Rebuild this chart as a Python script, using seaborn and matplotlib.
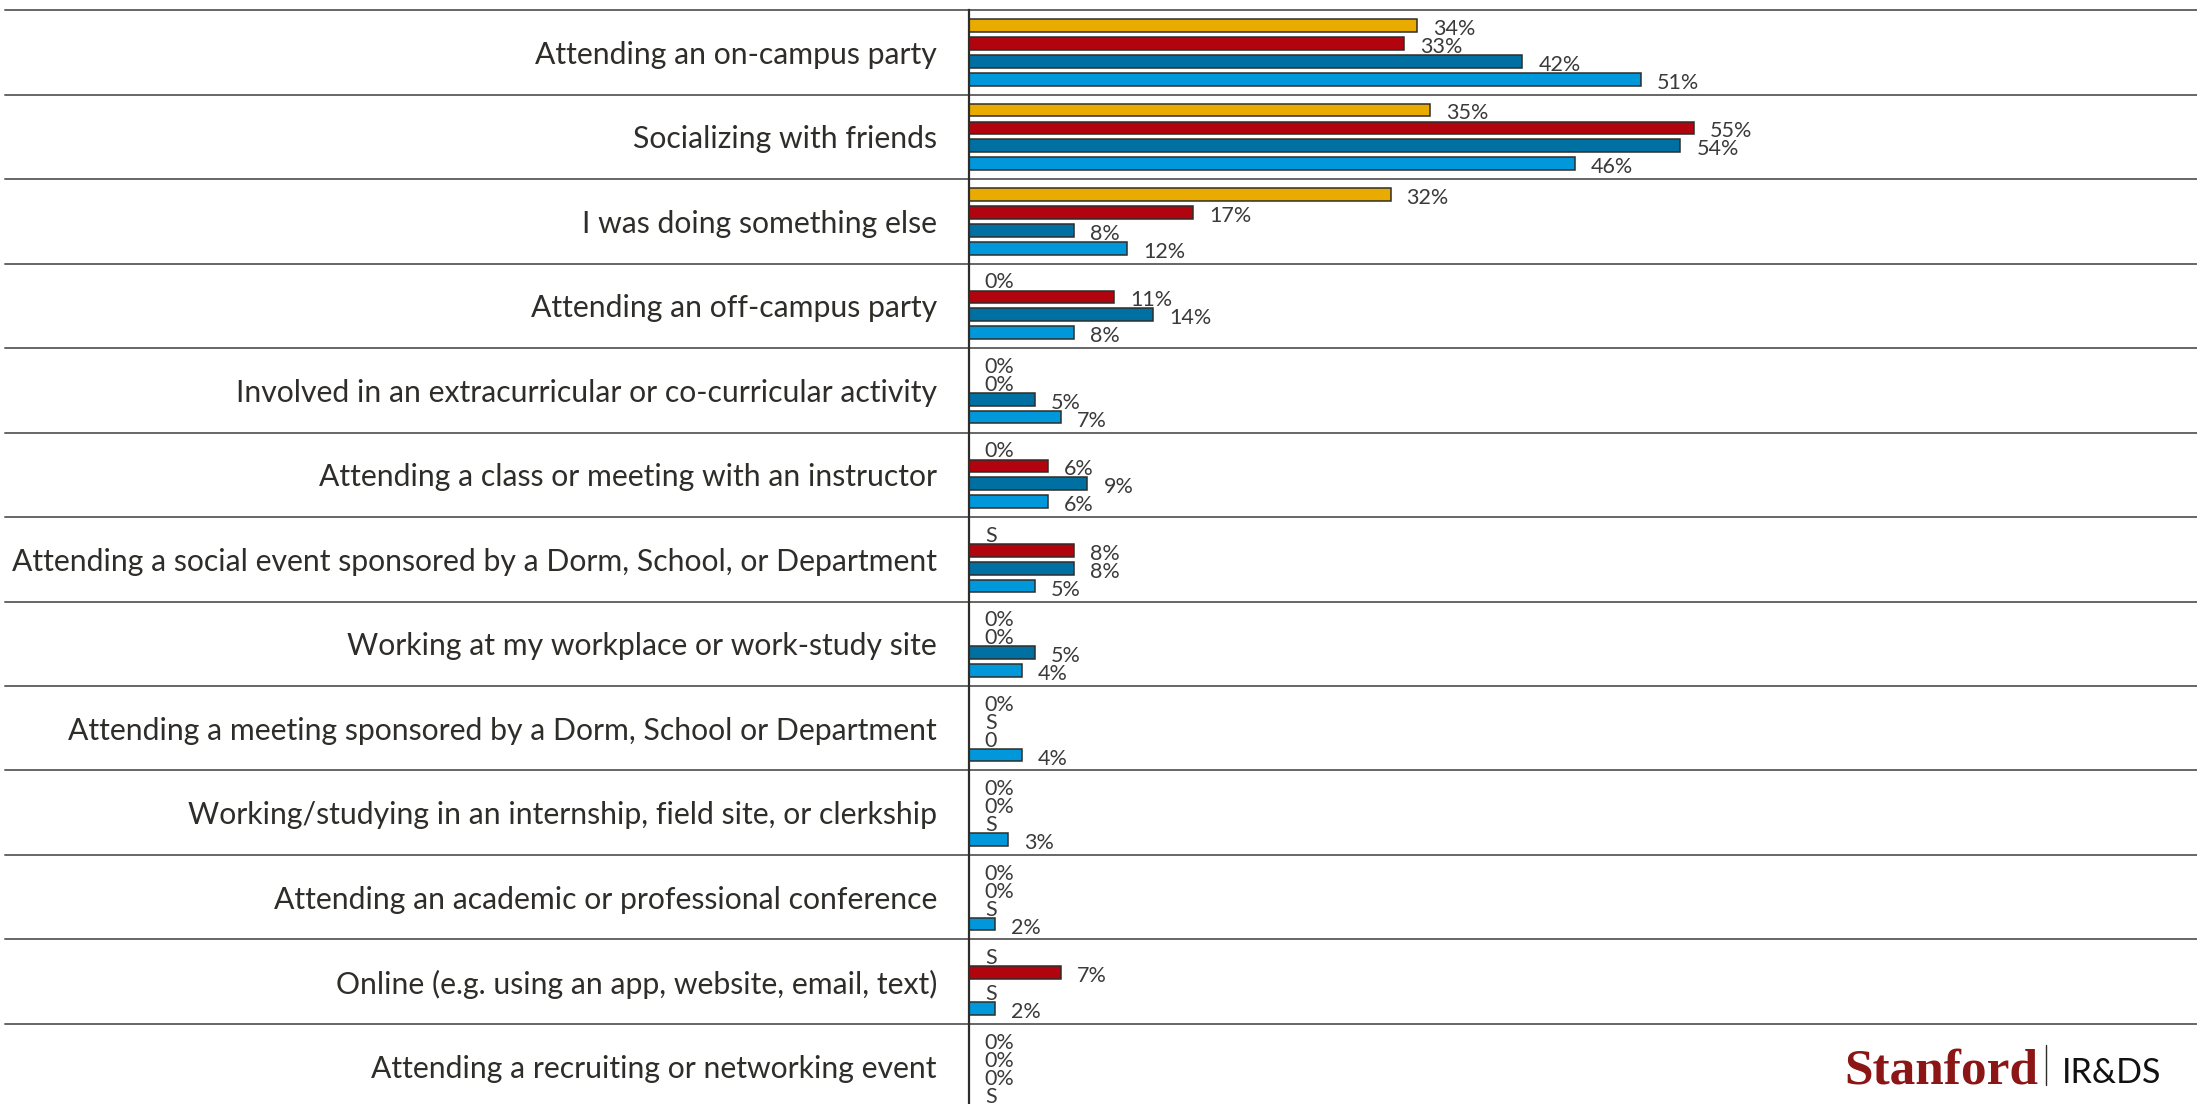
import matplotlib as mpl
mpl.use("Agg")

import matplotlib.pyplot as plt
from matplotlib.lines import Line2D
import seaborn as sns
import pandas as pd

sns.set_theme(style="white")
plt.rcParams["font.family"] = ["Lato", "DejaVu Sans"]

activities = [
    "Attending an on-campus party",
    "Socializing with friends",
    "I was doing something else",
    "Attending an off-campus party",
    "Involved in an extracurricular or co-curricular activity",
    "Attending a class or meeting with an instructor",
    "Attending a social event sponsored by a Dorm, School, or Department",
    "Working at my workplace or work-study site",
    "Attending a meeting sponsored by a Dorm, School or Department",
    "Working/studying in an internship, field site, or clerkship",
    "Attending an academic or professional conference",
    "Online (e.g. using an app, website, email, text)",
    "Attending a recruiting or networking event",
]

groups = ["Group 1", "Group 2", "Group 3", "Group 4"]
colors = ["#E9AB00", "#B1040E", "#0070A3", "#0098DB"]

# None = suppressed ("S")
group1 = [34, 35, 32, 0, 0, 0, None, 0, 0, 0, 0, None, 0]
group2 = [33, 55, 17, 11, 0, 6, 8, 0, None, 0, 0, 7, 0]
group3 = [42, 54, 8, 14, 5, 9, 8, 5, 0, None, None, None, 0]
group4 = [51, 46, 12, 8, 7, 6, 5, 4, 4, 3, 2, 2, None]

# printed labels (one cell reads "0" without the percent sign)
labels1 = ["34%", "35%", "32%", "0%", "0%", "0%", "S", "0%", "0%", "0%", "0%", "S", "0%"]
labels2 = ["33%", "55%", "17%", "11%", "0%", "6%", "8%", "0%", "S", "0%", "0%", "7%", "0%"]
labels3 = ["42%", "54%", "8%", "14%", "5%", "9%", "8%", "5%", "0", "S", "S", "S", "0%"]
labels4 = ["51%", "46%", "12%", "8%", "7%", "6%", "5%", "4%", "4%", "3%", "2%", "2%", "S"]

values = [group1, group2, group3, group4]
labels = [labels1, labels2, labels3, labels4]

df = pd.concat([
    pd.DataFrame({"activity": activities,
                  "share": [0 if v is None else v for v in vals],
                  "group": g})
    for g, vals in zip(groups, values)
])

ink = "#2e2d29"

fig = plt.figure(figsize=(21.97, 11.04), dpi=100)
ax = fig.add_axes([0.441, 0.0, 0.559, 0.9909])

sns.barplot(
    data=df, x="share", y="activity", hue="group",
    hue_order=groups, order=activities, palette=colors,
    orient="h", width=0.85, gap=0.3,
    edgecolor=ink, linewidth=1.1, saturation=1,
    legend=False, errorbar=None, ax=ax,
)

for cont, labs in zip(ax.containers, labels):
    for bar, lab in zip(cont, labs):
        ax.annotate(
            lab, (bar.get_width(), bar.get_y() + bar.get_height() / 2),
            xytext=(11.5, -2.5), textcoords="offset points",
            ha="left", va="center", fontsize=15.5, color="#3a3a3a",
        )

ax.set_xlim(0, 93.2)
ax.set_ylim(len(activities) - 0.553, -0.5)
ax.set_xlabel("")
ax.set_ylabel("")
ax.set_xticks([])
ax.tick_params(axis="y", length=0, pad=23, labelsize=21.7, labelcolor=ink)

for side in ["top", "right", "bottom"]:
    ax.spines[side].set_visible(False)
ax.spines["left"].set_color(ink)
ax.spines["left"].set_linewidth(1.6)

# row separators run across the label column too
for i in range(len(activities)):
    ax.axhline(i - 0.5, xmin=-0.785, xmax=1, color="#666666",
               linewidth=1.4, clip_on=False, zorder=0)

# logo
fig.text(0.8393, 0.019, "Stanford", family="Liberation Serif",
         fontsize=37, fontweight="bold", color="#8C1515",
         va="baseline", ha="left")
fig.add_artist(Line2D([2046 / 2197, 2046 / 2197], [0.017, 0.053],
                      color=ink, linewidth=1.0))
fig.text(0.9385, 0.019, "IR&DS", fontsize=24.5, color="#111111",
         va="baseline", ha="left")

fig.savefig("out.png", dpi=100)
